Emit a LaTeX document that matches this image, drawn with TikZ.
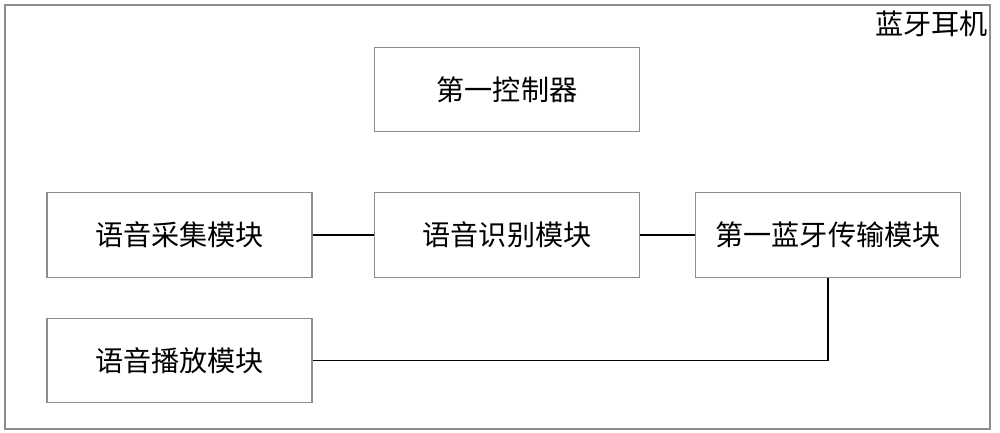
\documentclass[tikz,border=0pt]{standalone}
\usepackage{fontspec}
\setmainfont{Noto Sans CJK SC}
\usepackage{tikz}
\usetikzlibrary{positioning, calc}

\begin{document}
\begin{tikzpicture}[
        module/.style={rectangle, draw=gray!90, line width=0.6pt, minimum width=5.3cm, minimum height=1.69cm, align=center, font=\fontsize{16}{19}\selectfont},
        link/.style={line width=0.9pt, black}
    ]
        \useasboundingbox (0,0) rectangle (20,8.66);
        % Outer frame
        \draw[gray!90, line width=0.6pt] (0.1,0.08) rectangle (19.8,8.56);
        \node[anchor=north east, inner sep=0pt, font=\fontsize{16}{19}\selectfont] (title) at (19.76,8.44) {蓝牙耳机};

        % Nodes
        \node[module] (ctrl) at (10.14,6.87) {第一控制器};
        \node[module] (collect) at (3.59,3.96) {语音采集模块};
        \node[module] (recog) at (10.14,3.96) {语音识别模块};
        \node[module] (bt) at (16.56,3.96) {第一蓝牙传输模块};
        \node[module] (play) at (3.59,1.45) {语音播放模块};

        % Lines
        \draw[link] (collect) -- (recog);
        \draw[link] (recog) -- (bt);
        \draw[link] (bt.south) |- (play.east);
    \end{tikzpicture}
\end{document}
